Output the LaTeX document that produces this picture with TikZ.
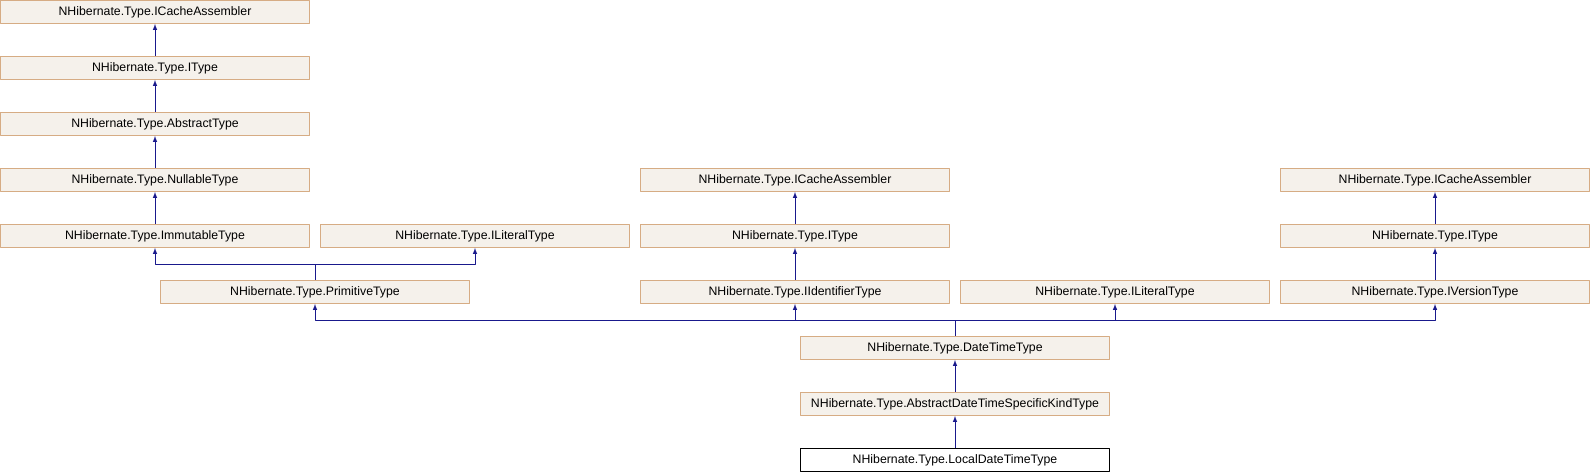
\documentclass[tikz,border=0pt]{standalone}
\usepackage{fontspec}
\setmainfont{Liberation Sans}
\usetikzlibrary{arrows}
\definecolor{clsfill}{RGB}{245,241,235}
\definecolor{clsdraw}{RGB}{214,172,132}
\definecolor{edgeblue}{RGB}{25,25,140}

\begin{document}
\begin{tikzpicture}[x=1pt,y=-1pt,line join=round,>=latex,
  cls/.style={draw=clsdraw,fill=clsfill,line width=0.9pt,minimum width=309pt,minimum height=23pt,inner sep=0pt,font=\fontsize{12.3}{14}\selectfont},
  main/.style={cls,draw=black,fill=white},
  edge/.style={<-,draw=edgeblue,line width=1pt}]
\useasboundingbox (0,0) rectangle (1590,472);

% left column
\node[cls] (ica1) at (155,12) {NHibernate.Type.ICacheAssembler};
\node[cls] (ityp1) at (155,68) {NHibernate.Type.IType};
\node[cls] (abst) at (155,124) {NHibernate.Type.AbstractType};
\node[cls] (null) at (155,180) {NHibernate.Type.NullableType};
\node[cls] (immu) at (155,236) {NHibernate.Type.ImmutableType};
\node[cls] (ilit1) at (475,236) {NHibernate.Type.ILiteralType};
\node[cls] (prim) at (315,292) {NHibernate.Type.PrimitiveType};

% middle column
\node[cls] (ica2) at (795,180) {NHibernate.Type.ICacheAssembler};
\node[cls] (ityp2) at (795,236) {NHibernate.Type.IType};
\node[cls] (iid) at (795,292) {NHibernate.Type.IIdentifierType};
\node[cls] (ilit2) at (1115,292) {NHibernate.Type.ILiteralType};

% right column
\node[cls] (ica3) at (1435,180) {NHibernate.Type.ICacheAssembler};
\node[cls] (ityp3) at (1435,236) {NHibernate.Type.IType};
\node[cls] (iver) at (1435,292) {NHibernate.Type.IVersionType};

% bottom
\node[cls] (dtt) at (955,348) {NHibernate.Type.DateTimeType};
\node[cls] (adts) at (955,404) {NHibernate.Type.AbstractDateTimeSpecificKindType};
\node[main] (ldt) at (955,460) {NHibernate.Type.LocalDateTimeType};

\coordinate (jprim) at (315,264);
\coordinate (jdtt) at (955,320);

\draw[edge] (ica1) -- (ityp1);
\draw[edge] (ityp1) -- (abst);
\draw[edge] (abst) -- (null);
\draw[edge] (null) -- (immu);
\draw[edge] (immu.south) |- (jprim) -- (prim.north);
\draw[edge] (ilit1.south) |- (jprim) -- (prim.north);

\draw[edge] (ica2) -- (ityp2);
\draw[edge] (ityp2) -- (iid);
\draw[edge] (ica3) -- (ityp3);
\draw[edge] (ityp3) -- (iver);

\draw[edge] (prim.south) |- (jdtt) -- (dtt.north);
\draw[edge] (iid.south) |- (jdtt) -- (dtt.north);
\draw[edge] (ilit2.south) |- (jdtt) -- (dtt.north);
\draw[edge] (iver.south) |- (jdtt) -- (dtt.north);
\draw[edge] (dtt) -- (adts);
\draw[edge] (adts) -- (ldt);
\end{tikzpicture}
\end{document}
